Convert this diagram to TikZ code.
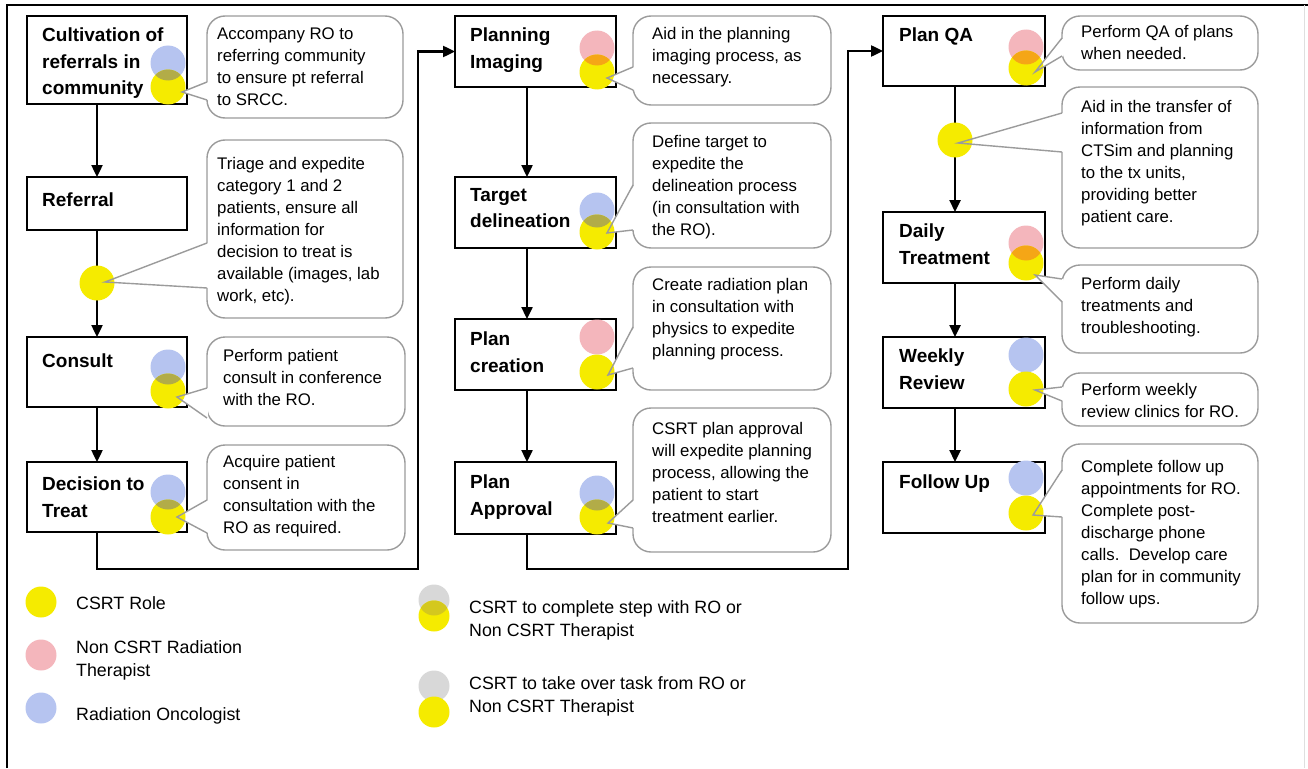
\documentclass[tikz,border=0pt]{standalone}
\usepackage{fontspec}
\setmainfont{Liberation Sans}
\usetikzlibrary{arrows.meta}

\definecolor{csyellow}{RGB}{245,235,0}
\definecolor{roblue}{RGB}{182,196,240}
\definecolor{ntpink}{RGB}{244,182,188}
\definecolor{lggray}{RGB}{216,216,216}
\definecolor{bluemix}{RGB}{178,172,72}
\definecolor{pinkmix}{RGB}{245,166,22}
\definecolor{graymix}{RGB}{212,200,30}
\definecolor{notegray}{RGB}{155,155,155}

\tikzset{
  stage/.style={draw, line width=2.4pt, fill=white, inner sep=0pt, outer sep=0pt, anchor=north west},
  stagetext/.style={anchor=north west, inner sep=0pt, align=left, font=\fontsize{19}{26.5}\selectfont\bfseries},
  flow/.style={line width=2.4pt, -{Triangle[length=12pt,width=11pt]}},
  note/.style={draw=notegray, line width=1.4pt, fill=white, rounded corners=18pt, inner sep=0pt, outer sep=0pt, anchor=north west},
  notetext/.style={anchor=north west, inner sep=0pt, align=left, font=\fontsize{16.8}{22}\selectfont},
  keytext/.style={anchor=north west, inner sep=0pt, align=left, font=\fontsize{17.8}{23.5}\selectfont},
  dot/.style={circle, minimum size=35pt, inner sep=0pt, outer sep=0pt},
  cs/.style={dot, fill=csyellow},
  ro/.style={dot, fill=roblue},
  nt/.style={dot, fill=ntpink},
  mix/.style n args={3}{path picture={\fill[#2] (#1.center) circle (#3);}},
}

% callout, tip, base offsets from the callout's top
\newcommand{\notepointers}{c1/t1/66/84, c2/t2/103/148, c3/t3/51/81, c4/t4/55/88,
  c5/t5/51/74, c6/t6/62/107, c7/t7/60/101, c8/t8/92/120,
  c9/t9/22/40, c10/t10/26/65, c11/t11/14/37, c12/t12/14/28, c13/t13/26/73}

\begin{document}
\begin{tikzpicture}[x=1pt,y=-1pt]
\useasboundingbox (0,0) rectangle (1308,768);
% frame
\draw[line width=1.5pt] (7,768) -- (7,5) -- (1308,5);
\draw[gray!25, line width=1pt] (1304,5) -- (1304,768);

% steps
\node[stage, minimum width=160pt, minimum height=88pt] (cult) at (27,16) {};
\node[stage, minimum width=160pt, minimum height=53pt] (refl) at (27,177) {};
\node[stage, minimum width=160pt, minimum height=70pt] (cons) at (27,337) {};
\node[stage, minimum width=160pt, minimum height=70pt] (dect) at (27,462) {};
\node[stage, minimum width=161pt, minimum height=71pt] (plim) at (455,16) {};
\node[stage, minimum width=161pt, minimum height=71pt] (targ) at (455,177) {};
\node[stage, minimum width=161pt, minimum height=71pt] (pcre) at (455,319) {};
\node[stage, minimum width=161pt, minimum height=72pt] (papp) at (455,462) {};
\node[stage, minimum width=162pt, minimum height=70pt] (pqa) at (883,16) {};
\node[stage, minimum width=162pt, minimum height=71pt] (dail) at (883,212) {};
\node[stage, minimum width=162pt, minimum height=71pt] (week) at (883,337) {};
\node[stage, minimum width=162pt, minimum height=71pt] (foll) at (883,462) {};

% flow
\coordinate (j1) at (418,569);
\coordinate (j2) at (848,569);
\draw[flow] ([xshift=70pt]cult.south west) -- ([xshift=70pt]refl.north west);
\draw[flow] ([xshift=70pt]refl.south west) -- ([xshift=70pt]cons.north west);
\draw[flow] ([xshift=70pt]cons.south west) -- ([xshift=70pt]dect.north west);
\draw[flow] ([xshift=70pt]dect.south west) |- (j1) |- (plim.west);
\draw[flow] ([xshift=72pt]plim.south west) -- ([xshift=72pt]targ.north west);
\draw[flow] ([xshift=72pt]targ.south west) -- ([xshift=72pt]pcre.north west);
\draw[flow] ([xshift=72pt]pcre.south west) -- ([xshift=72pt]papp.north west);
\draw[flow] ([xshift=72pt]papp.south west) |- (j2) |- (pqa.west);
\draw[flow] ([xshift=72pt]pqa.south west) -- ([xshift=72pt]dail.north west);
\draw[flow] ([xshift=72pt]dail.south west) -- ([xshift=72pt]week.north west);
\draw[flow] ([xshift=72pt]week.south west) -- ([xshift=72pt]foll.north west);

% callouts
\node[note, minimum width=196pt, minimum height=102pt] (c1) at (207,16) {};
\node[note, minimum width=196pt, minimum height=178pt] (c2) at (207,140) {};
\node[note, minimum width=198pt, minimum height=89pt] (c3) at (207,337) {};
\node[note, minimum width=198pt, minimum height=105pt] (c4) at (207,445) {};
\node[note, minimum width=198pt, minimum height=89pt] (c5) at (633,16) {};
\node[note, minimum width=198pt, minimum height=125pt] (c6) at (633,123) {};
\node[note, minimum width=198pt, minimum height=123pt] (c7) at (633,267) {};
\node[note, minimum width=198pt, minimum height=144pt] (c8) at (633,408) {};
\node[note, minimum width=196pt, minimum height=54pt] (c9) at (1062,16) {};
\node[note, minimum width=196pt, minimum height=161pt] (c10) at (1062,87) {};
\node[note, minimum width=196pt, minimum height=88pt] (c11) at (1062,265) {};
\node[note, minimum width=196pt, minimum height=53pt] (c12) at (1062,373) {};
\node[note, minimum width=196pt, minimum height=179pt] (c13) at (1062,444) {};

\coordinate (t1) at (182,92);
\coordinate (t2) at (105,282);
\coordinate (t3) at (177,397);
\coordinate (t4) at (177,517);
\coordinate (t5) at (607,78);
\coordinate (t6) at (607,233);
\coordinate (t7) at (608,375);
\coordinate (t8) at (608,523);
\coordinate (t9) at (1035,72);
\coordinate (t10) at (958,143);
\coordinate (t11) at (1035,275);
\coordinate (t12) at (1035,390);
\coordinate (t13) at (1033,515);

\foreach \nm/\tp/\ya/\yb in \notepointers
  \fill[white] ([shift={(1.2,\ya)}]\nm.north west) -- (\tp) -- ([shift={(1.2,\yb)}]\nm.north west) -- cycle;

% roles
\node[ro] (cult-b) at (168,63) {};
\node[cs, mix={cult-b}{bluemix}{17.5pt}] (cult-y) at (168,87) {};
\node[cs] (refl-y) at (97,283) {};
\node[ro] (cons-b) at (168,367) {};
\node[cs, mix={cons-b}{bluemix}{17.5pt}] (cons-y) at (168,391) {};
\node[ro] (dect-b) at (168,492) {};
\node[cs, mix={dect-b}{bluemix}{17.5pt}] (dect-y) at (168,517) {};
\node[nt] (plim-p) at (597,48) {};
\node[cs, mix={plim-p}{pinkmix}{17.5pt}] (plim-y) at (597,72) {};
\node[ro] (targ-b) at (597,210) {};
\node[cs, mix={targ-b}{bluemix}{17.5pt}] (targ-y) at (597,232) {};
\node[nt] (pcre-p) at (597,337) {};
\node[cs] (pcre-y) at (597,372) {};
\node[ro] (papp-b) at (597,493) {};
\node[cs, mix={papp-b}{bluemix}{17.5pt}] (papp-y) at (597,517) {};
\node[nt] (pqa-p) at (1026,47) {};
\node[cs, mix={pqa-p}{pinkmix}{17.5pt}] (pqa-y) at (1026,68) {};
\node[cs] (pqa-t) at (955,140) {};
\node[nt] (dail-p) at (1026,243) {};
\node[cs, mix={dail-p}{pinkmix}{17.5pt}] (dail-y) at (1026,263) {};
\node[ro] (week-b) at (1026,355) {};
\node[cs] (week-y) at (1026,389) {};
\node[ro] (foll-b) at (1026,478) {};
\node[cs] (foll-y) at (1026,513) {};

\foreach \nm/\tp/\ya/\yb in \notepointers
  \draw[notegray, line width=1.4pt] ([shift={(0,\ya)}]\nm.north west) -- (\tp) -- ([shift={(0,\yb)}]\nm.north west);

% step names
\node[stagetext] (cult-n) at ([shift={(15,12)}]cult.north west) {Cultivation of\\referrals in\\community};
\node[stagetext] (refl-n) at ([shift={(15,16)}]refl.north west) {Referral};
\node[stagetext] (cons-n) at ([shift={(15,17)}]cons.north west) {Consult};
\node[stagetext] (dect-n) at ([shift={(15,15)}]dect.north west) {Decision to\\Treat};
\node[stagetext] (plim-n) at ([shift={(15,12)}]plim.north west) {Planning\\Imaging};
\node[stagetext] (targ-n) at ([shift={(15,11)}]targ.north west) {Target\\delineation};
\node[stagetext] (pcre-n) at ([shift={(15,13)}]pcre.north west) {Plan\\creation};
\node[stagetext] (papp-n) at ([shift={(15,13)}]papp.north west) {Plan\\Approval};
\node[stagetext] (pqa-n) at ([shift={(16,12)}]pqa.north west) {Plan QA};
\node[stagetext] (dail-n) at ([shift={(16,12)}]dail.north west) {Daily\\Treatment};
\node[stagetext] (week-n) at ([shift={(16,12)}]week.north west) {Weekly\\Review};
\node[stagetext] (foll-n) at ([shift={(16,13)}]foll.north west) {Follow Up};

% callout texts
\node[notetext] (c1-t) at ([shift={(10,12)}]c1.north west) {Accompany RO to\\referring community\\to ensure pt referral\\to SRCC.};
\node[notetext] (c2-t) at ([shift={(10,17)}]c2.north west) {Triage and expedite\\category 1 and 2\\patients, ensure all\\information for\\decision to treat is\\available (images, lab\\work, etc).};
\node[notetext] (c3-t) at ([shift={(16,12)}]c3.north west) {Perform patient\\consult in conference\\with the RO.};
\node[notetext] (c4-t) at ([shift={(16,10)}]c4.north west) {Acquire patient\\consent in\\consultation with the\\RO as required.};
\node[notetext] (c5-t) at ([shift={(19,11)}]c5.north west) {Aid in the planning\\imaging process, as\\necessary.};
\node[notetext] (c6-t) at ([shift={(19,12)}]c6.north west) {Define target to\\expedite the\\delineation process\\(in consultation with\\the RO).};
\node[notetext] (c7-t) at ([shift={(19,11)}]c7.north west) {Create radiation plan\\in consultation with\\physics to expedite\\planning process.};
\node[notetext] (c8-t) at ([shift={(19,14)}]c8.north west) {CSRT plan approval\\will expedite planning\\process, allowing the\\patient to start\\treatment earlier.};
\node[notetext] (c9-t) at ([shift={(19,9)}]c9.north west) {Perform QA of plans\\when needed.};
\node[notetext] (c10-t) at ([shift={(19,13)}]c10.north west) {Aid in the transfer of\\information from\\CTSim and planning\\to the tx units,\\providing better\\patient care.};
\node[notetext] (c11-t) at ([shift={(19,12)}]c11.north west) {Perform daily\\treatments and\\troubleshooting.};
\node[notetext] (c12-t) at ([shift={(19,10)}]c12.north west) {Perform weekly\\review clinics for RO.};
\node[notetext] (c13-t) at ([shift={(19,16)}]c13.north west) {Complete follow up\\appointments for RO.\\Complete post-\\discharge phone\\calls.\ \ Develop care\\plan for in community\\follow ups.};

% legend
\node[cs, minimum size=31pt] (key1) at (41,602) {};
\node[nt, minimum size=31pt] (key2) at (41,655) {};
\node[ro, minimum size=31pt] (key3) at (41,708) {};
\node[dot, fill=lggray, minimum size=31pt] (key4-g) at (434,600) {};
\node[cs, minimum size=31pt, mix={key4-g}{graymix}{15.5pt}] (key4-y) at (434,616) {};
\node[dot, fill=lggray, minimum size=31pt] (key5-g) at (434,686) {};
\node[cs, minimum size=31pt] (key5-y) at (434,712) {};
\node[keytext] (key1-t) at (76,596) {CSRT Role};
\node[keytext] (key2-t) at (76,640) {Non CSRT Radiation\\Therapist};
\node[keytext] (key3-t) at (76,707) {Radiation Oncologist};
\node[keytext] (key4-t) at (469,600) {CSRT to complete step with RO or\\Non CSRT Therapist};
\node[keytext] (key5-t) at (469,676) {CSRT to take over task from RO or\\Non CSRT Therapist};
\end{tikzpicture}
\end{document}
